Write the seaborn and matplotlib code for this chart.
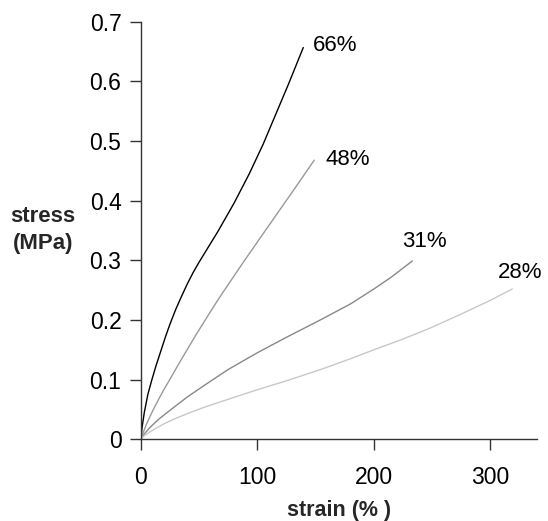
import numpy as np
import pandas as pd
import matplotlib
matplotlib.use("Agg")
import matplotlib.pyplot as plt
import seaborn as sns

# ---- data ----
strain_66 = [0, 1, 3, 6, 9.5, 13, 17, 21, 25, 30, 35, 40, 45, 50, 55, 66, 80, 93, 105, 116, 127, 139.4]
stress_66 = [0, 0.019, 0.045, 0.075, 0.100, 0.123, 0.147, 0.171, 0.193, 0.218, 0.240, 0.261,
             0.280, 0.297, 0.313, 0.348, 0.396, 0.445, 0.495, 0.546, 0.597, 0.657]

strain_48 = [0, 2, 5, 10, 15, 20, 26, 33, 40, 47, 54, 62, 70, 79, 88, 104, 119, 134, 148.8]
stress_48 = [0, 0.011, 0.026, 0.047, 0.066, 0.084, 0.104, 0.128, 0.151, 0.174, 0.196, 0.221,
             0.245, 0.271, 0.297, 0.342, 0.384, 0.426, 0.468]

strain_31 = [0, 3, 8, 15, 26, 40, 55, 75, 100, 125, 154, 180, 200, 215, 233]
stress_31 = [0, 0.009, 0.020, 0.033, 0.050, 0.071, 0.091, 0.117, 0.145, 0.171, 0.200, 0.227,
             0.252, 0.272, 0.299]

strain_28 = [0, 3, 10, 20, 30, 40, 55, 75, 100, 125, 154.5, 180, 200, 225, 249, 275, 300, 318.8]
stress_28 = [0, 0.006, 0.015, 0.026, 0.035, 0.043, 0.054, 0.067, 0.083, 0.098, 0.117, 0.135,
             0.150, 0.168, 0.187, 0.210, 0.233, 0.252]

series_names = ["66%", "48%", "31%", "28%"]
series_colors = ["#000000", "#999999", "#888888", "#c8c8c8"]
label_x = [147.4, 158.5, 224.5, 306]
label_y = [0.661, 0.470, 0.332, 0.279]

x_ticks = [0, 100, 200, 300]
y_ticks = [0, 0.1, 0.2, 0.3, 0.4, 0.5, 0.6, 0.7]
y_ticklabels = ["0", "0.1", "0.2", "0.3", "0.4", "0.5", "0.6", "0.7"]

frames = []
for name, xs, ys in zip(series_names,
                        [strain_66, strain_48, strain_31, strain_28],
                        [stress_66, stress_48, stress_31, stress_28]):
    frames.append(pd.DataFrame({"strain": xs, "stress": ys, "series": name}))
df = pd.concat(frames, ignore_index=True)

sns.set_style("ticks")
plt.rcParams["font.family"] = ["Liberation Sans", "DejaVu Sans"]

fig = plt.figure(figsize=(5.48, 5.21), dpi=100)
ax = fig.add_axes([0.257, 0.157, 0.723, 0.801])

sns.lineplot(data=df, x="strain", y="stress", hue="series", hue_order=series_names,
             palette=dict(zip(series_names, series_colors)), sort=False,
             estimator=None, linewidth=1.0, legend=False, ax=ax)

for name, lx, ly in zip(series_names, label_x, label_y):
    ax.text(lx, ly, name, ha="left", va="center", fontsize=16, color="#000000")

ax.set_xlim(0, 340)
ax.set_ylim(0, 0.7)
ax.set_xticks(x_ticks)
ax.set_yticks(y_ticks)
ax.set_yticklabels(y_ticklabels)

for s in ["top", "right"]:
    ax.spines[s].set_visible(False)
for s in ["left", "bottom"]:
    ax.spines[s].set_color("#333333")
    ax.spines[s].set_linewidth(1.0)

ax.tick_params(axis="both", direction="out", length=8, width=1.0, color="#333333",
               labelsize=16.5, labelcolor="#000000")
ax.tick_params(axis="x", pad=11)
ax.tick_params(axis="y", pad=6)

ax.set_xlabel("strain (% )", fontsize=15.5, fontweight="bold", va="center")
ax.xaxis.set_label_coords(0.5, -0.17)
ax.set_ylabel("stress\n(MPa)", fontsize=16, fontweight="bold", rotation=0,
              ha="center", va="center", multialignment="center", linespacing=1.35)
ax.yaxis.set_label_coords(-0.247, 0.501)

fig.savefig("out.png", dpi=100)
